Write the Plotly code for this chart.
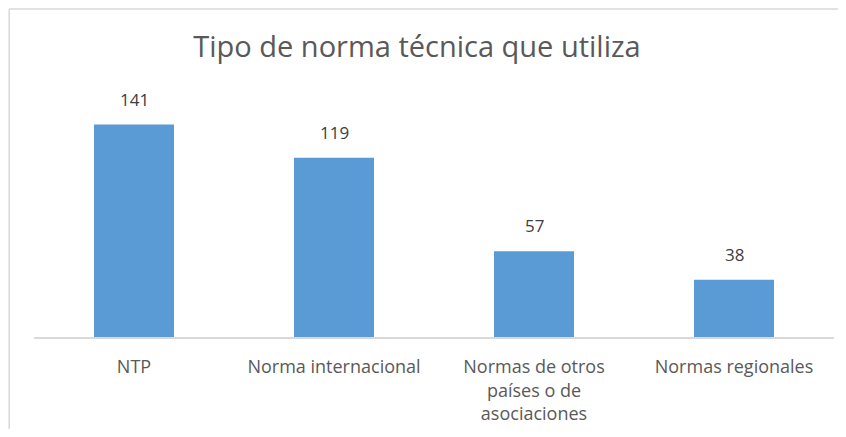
import plotly.graph_objects as go

categorias = ["NTP", "Norma internacional", "Normas de otros<br>países o de<br>asociaciones", "Normas regionales"]
valores = [141, 119, 57, 38]

fig = go.Figure()
fig.add_trace(
    go.Bar(
        x=categorias,
        y=valores,
        marker=dict(color="#5B9BD5", line=dict(width=0)),
        hoverinfo="x+y",
    )
)

# value labels above each bar
for c, v in zip(categorias, valores):
    fig.add_annotation(
        x=c, y=v, text=str(v), showarrow=False,
        yanchor="bottom", yshift=12,
        font=dict(family="Open Sans", size=17, color="#404040"),
    )

# chart-area border: only the left and top edges show in the reference
fig.add_shape(type="line", xref="paper", yref="paper",
              x0=-0.031, x1=-0.031, y0=-0.6, y1=1.361,
              line=dict(color="#d9d9d9", width=1.5), layer="below")
fig.add_shape(type="line", xref="paper", yref="paper",
              x0=-0.031, x1=1.1, y0=1.361, y1=1.361,
              line=dict(color="#d9d9d9", width=1.5), layer="below")

# the page body has an 8px margin: shrink the figure so nothing scrolls
W, H = 830, 421
fig.update_layout(
    title=dict(
        text="Tipo de norma técnica que utiliza",
        x=409 / W, xanchor="center", y=1 - 39 / H, yanchor="middle",
        font=dict(family="Open Sans", size=29, color="#595959"),
    ),
    width=W,
    height=H,
    margin=dict(l=26, r=4, t=88, b=92),
    paper_bgcolor="white",
    plot_bgcolor="white",
    bargap=0.6,
    showlegend=False,
    xaxis=dict(
        showline=True, linecolor="#d9d9d9", linewidth=1.5,
        ticks="", showgrid=False,
        tickfont=dict(family="Open Sans", size=18, color="#595959"),
        ticklabelstandoff=13,
    ),
    yaxis=dict(range=[0, 160], visible=False, showgrid=False),
)

fig.write_html("out.html")
